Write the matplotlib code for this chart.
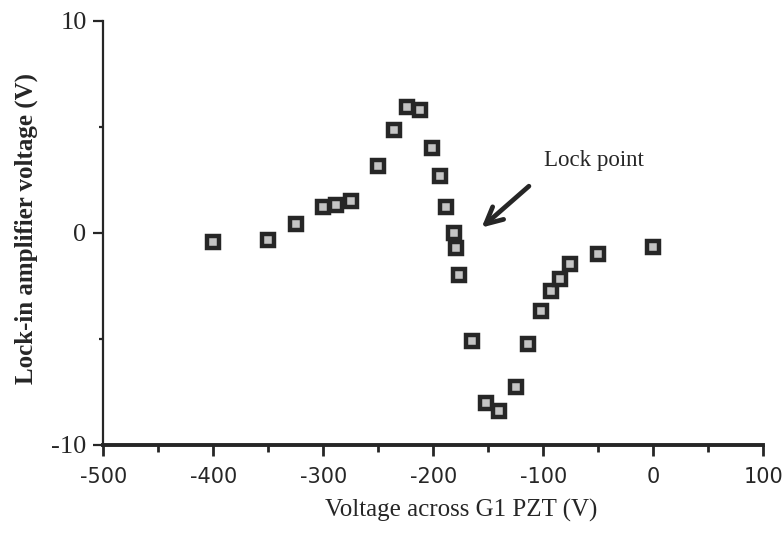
import matplotlib.pyplot as plt
from matplotlib.ticker import MultipleLocator

# valori
pzt_voltage = [-400, -350, -325, -300, -288, -275, -250, -236, -224, -212,
               -201, -194, -188, -181, -179, -177, -165, -152, -140, -125,
               -114, -102, -93, -85, -76, -50, 0]
lockin_voltage = [-0.45, -0.35, 0.4, 1.2, 1.3, 1.5, 3.15, 4.85, 5.95, 5.8,
                  4.0, 2.7, 1.2, 0.0, -0.7, -2.0, -5.1, -8.05, -8.4, -7.25,
                  -5.25, -3.7, -2.75, -2.2, -1.45, -1.0, -0.65]
x_ticks = [-500, -400, -300, -200, -100, 0, 100]
y_ticks = [-10, 0, 10]

plt.rcParams['axes.unicode_minus'] = False
ink = '#262626'

fig = plt.figure(figsize=(7.82, 5.34), dpi=100)
ax = fig.add_axes([0.132, 0.167, 0.844, 0.794])

ax.plot(pzt_voltage, lockin_voltage, linestyle='none', marker='s',
        markersize=9, markerfacecolor='#c4c4c4', markeredgecolor=ink,
        markeredgewidth=3.2)

ax.set_xlim(-500, 100)
ax.set_ylim(-10, 10)
ax.set_xticks(x_ticks)
ax.set_yticks(y_ticks)
ax.xaxis.set_minor_locator(MultipleLocator(50))
ax.yaxis.set_minor_locator(MultipleLocator(5))

for s in ['top', 'right']:
    ax.spines[s].set_visible(False)
ax.spines['left'].set_linewidth(1.6)
ax.spines['bottom'].set_linewidth(2.8)
ax.spines['left'].set_color(ink)
ax.spines['bottom'].set_color(ink)

ax.tick_params(axis='x', which='major', direction='out', length=8, width=2, color=ink, pad=8)
ax.tick_params(axis='x', which='minor', direction='out', length=5, width=2, color=ink)
ax.tick_params(axis='y', which='major', direction='out', length=7, width=1.6, color=ink, pad=5)
ax.tick_params(axis='y', which='minor', direction='out', length=3, width=1.6, color=ink)

ax.set_xticklabels([str(v) for v in x_ticks], fontfamily='DejaVu Sans', fontsize=15,
                   fontweight='medium', color=ink)
ax.set_yticklabels([str(v) for v in y_ticks], fontfamily='Liberation Serif', fontsize=19, color=ink)

ax.set_xlabel('Voltage across G1 PZT (V)', fontfamily='Liberation Serif', fontsize=18,
              color=ink)
ax.xaxis.set_label_coords(0.542, -0.128)
ax.set_ylabel('Lock-in amplifier voltage (V)', fontfamily='Liberation Serif', fontsize=18,
              fontweight='bold', color=ink)
ax.yaxis.set_label_coords(-0.099, 0.51)

# freccia e testo del punto di aggancio
ax.annotate('', xy=(-156, 0.25), xytext=(-113, 2.2),
            arrowprops=dict(arrowstyle='->', lw=3.4, color=ink, mutation_scale=30,
                            shrinkA=0, shrinkB=0))
ax.text(-54, 3.4, 'Lock point', fontfamily='Liberation Serif', fontsize=16.5,
        color=ink, ha='center', va='center')

fig.savefig('out.png', dpi=100)
